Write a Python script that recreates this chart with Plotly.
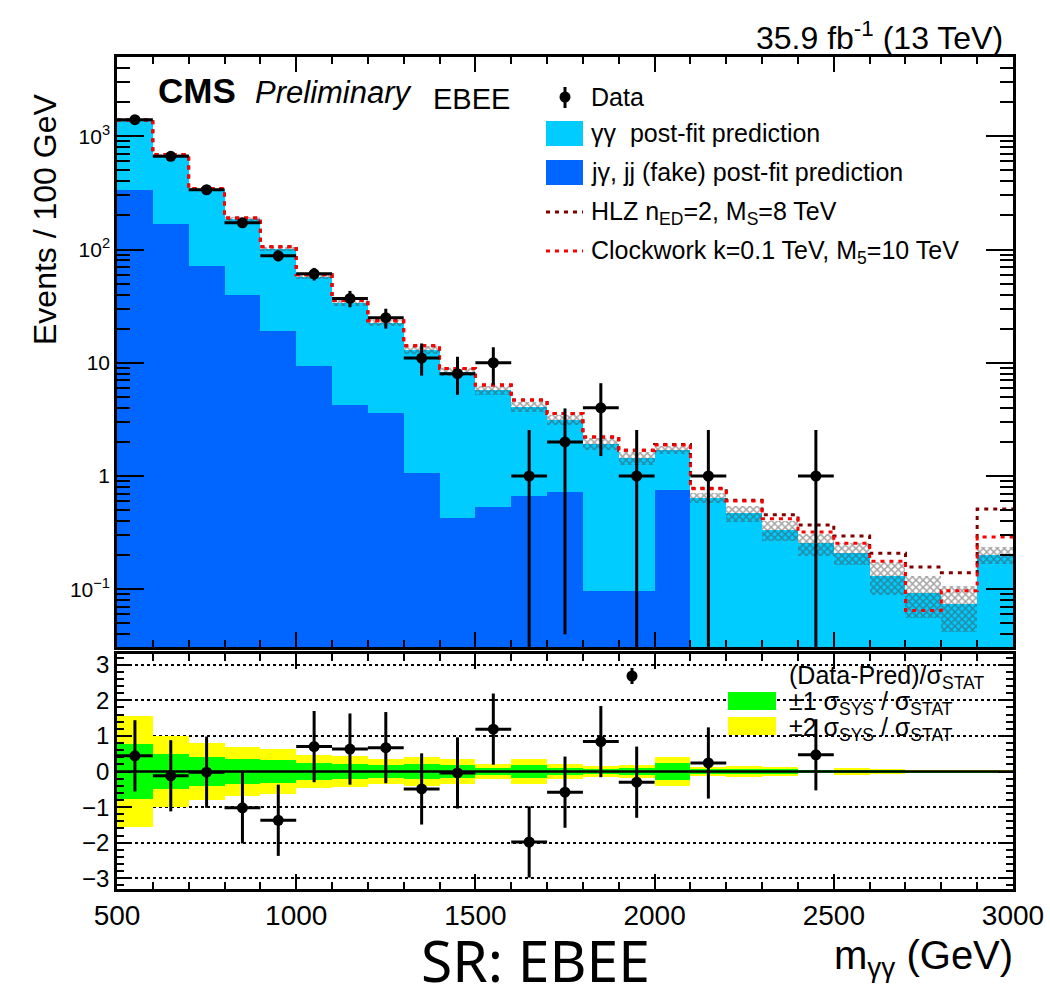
import plotly.graph_objects as go

# ---- binning (GeV) ----
bin_edges = list(range(500, 3001, 100))
bin_centers = [e + 50 for e in bin_edges[:-1]]

# ---- observed events per bin (None = empty bin) ----
data_counts = [1400, 665, 337, 172, 88, 61, 37, 25, 11, 8, 10, 1, 2, 4, 1,
               None, 1, None, None, 1, None, None, None, None, None]
data_err_up = [37, 26, 18, 13, 9.4, 7.8, 6.1, 5.0, 3.8, 3.3, 3.7, 1.55, 1.95, 2.6, 1.55,
               None, 1.55, None, None, 1.55, None, None, None, None, None]
data_err_dn = [37, 26, 18, 13, 9.4, 7.8, 6.1, 5.0, 3.3, 2.8, 3.6, 1.0, 1.96, 2.5, 1.0,
               None, 1.0, None, None, 1.0, None, None, None, None, None]

# ---- post-fit background components ----
pred_fake = [337, 169, 72, 39.6, 19.2, 9.4, 4.2, 3.6, 1.06, 0.43, 0.53, 0.665, 0.72, 0.096, 0.097,
             0.76, 0.012, 0.011, 0.010, 0.009, 0.008, 0.007, 0.006, 0.005, 0.005]
pred_gg = [1033, 511, 266, 146, 82, 48.3, 29.8, 18.7, 11.9, 7.87, 5.17, 3.44, 2.43, 1.84, 1.35,
           0.94, 0.63, 0.46, 0.325, 0.245, 0.20, 0.125, 0.087, 0.069, 0.195]
pred_rel_unc = [0.03, 0.03, 0.03, 0.04, 0.05, 0.05, 0.06, 0.06, 0.08, 0.08, 0.09, 0.10, 0.10, 0.13, 0.13,
                0.08, 0.10, 0.16, 0.20, 0.22, 0.22, 0.33, 0.40, 0.43, 0.17]

# ---- signal + background hypotheses ----
hlz_total = [1390, 690, 345, 190, 106, 60, 35.5, 23.5, 14.1, 8.9, 6.35, 4.68, 3.57, 2.21, 1.69,
             1.90, 0.78, 0.61, 0.455, 0.37, 0.295, 0.208, 0.157, 0.14, 0.51]
clockwork_total = [1390, 690, 345, 190, 106, 60, 35.5, 23.5, 14.1, 8.9, 6.35, 4.68, 3.57, 2.21, 1.69,
                   1.88, 0.77, 0.60, 0.42, 0.32, 0.255, 0.177, 0.065, 0.097, 0.29]

# ---- pulls (Data-Pred)/sigma_stat ----
pulls = [0.44, -0.12, -0.02, -1.02, -1.37, 0.70, 0.63, 0.67, -0.49, -0.04, 1.19, -1.98, -0.58, 0.84, -0.30,
         None, 0.24, None, None, 0.47, None, None, None, None, None]
pull_err = [1.0, 1.0, 1.0, 1.0, 1.0, 1.0, 1.0, 1.0, 1.0, 1.0, 1.0, 1.0, 1.0, 1.0, 1.0,
            None, 1.0, None, None, 1.0, None, None, None, None, None]
band_1sig = [0.78, 0.50, 0.40, 0.35, 0.32, 0.24, 0.21, 0.17, 0.20, 0.17, 0.10, 0.17, 0.11, 0.08, 0.10,
             0.25, 0.06, 0.07, 0.065, 0.03, 0.05, 0.035, 0.025, 0.025, 0.025]
band_2sig = [1.55, 1.00, 0.80, 0.70, 0.64, 0.47, 0.43, 0.34, 0.41, 0.35, 0.20, 0.35, 0.22, 0.16, 0.19,
             0.41, 0.12, 0.15, 0.13, 0.05, 0.10, 0.07, 0.05, 0.05, 0.05]

# ---- styling ----
FONT = "Liberation Sans"
C_GG = "#00CCFF"
C_FAKE = "#0066FF"
C_HLZ = "#800000"
C_CW = "#FF0000"
C_GREEN = "#00FF00"
C_YELLOW = "#FFFF00"

W, H = 1050, 1002
ML, MR, MT, MB = 117, 37, 57, 113
PW, PH = W - ML - MR, H - MT - MB


def px(x):
    return (x - ML) / PW


def py(y):
    return (H - MB - y) / PH


pred_total = [g + f for g, f in zip(pred_gg, pred_fake)]
bin_width = [100] * len(bin_centers)

fig = go.Figure()

# stacked background (top panel)
fig.add_trace(go.Bar(x=bin_centers, y=pred_total, width=bin_width, marker=dict(color=C_GG, line=dict(width=0)),
                     xaxis="x2", yaxis="y2", showlegend=False))
fig.add_trace(go.Bar(x=bin_centers, y=pred_fake, width=bin_width, marker=dict(color=C_FAKE, line=dict(width=0)),
                     xaxis="x2", yaxis="y2", showlegend=False))
# background uncertainty (hatched)
fig.add_trace(go.Bar(
    x=bin_centers,
    y=[t * 2 * u for t, u in zip(pred_total, pred_rel_unc)],
    base=[t * (1 - u) for t, u in zip(pred_total, pred_rel_unc)],
    width=bin_width,
    marker=dict(color="rgba(0,0,0,0)", line=dict(width=0),
                pattern=dict(shape="x", fgcolor="#4a4a4a", bgcolor="rgba(0,0,0,0)",
                             size=5, solidity=0.5, fillmode="overlay")),
    xaxis="x2", yaxis="y2", showlegend=False))

# signal hypotheses (step lines)
fig.add_trace(go.Scatter(x=bin_edges, y=hlz_total + [hlz_total[-1]], mode="lines", line_shape="hv",
                         line=dict(color=C_HLZ, width=3, dash="4px,5px"),
                         xaxis="x2", yaxis="y2", showlegend=False))
fig.add_trace(go.Scatter(x=bin_edges, y=clockwork_total + [clockwork_total[-1]], mode="lines", line_shape="hv",
                         line=dict(color=C_CW, width=3, dash="4px,5px"),
                         xaxis="x2", yaxis="y2", showlegend=False))

# data points
fig.add_trace(go.Scatter(
    x=bin_centers, y=data_counts, mode="markers",
    marker=dict(color="black", size=11),
    error_x=dict(type="constant", value=50, thickness=3, width=0, color="black"),
    error_y=dict(type="data", array=data_err_up, arrayminus=data_err_dn, symmetric=False,
                 thickness=3, width=0, color="black"),
    xaxis="x2", yaxis="y2", showlegend=False))

# ---- ratio panel ----
fig.add_trace(go.Bar(x=bin_centers, y=[2 * b for b in band_2sig], base=[-b for b in band_2sig], width=bin_width,
                     marker=dict(color=C_YELLOW, line=dict(width=0)), xaxis="x", yaxis="y", showlegend=False))
fig.add_trace(go.Bar(x=bin_centers, y=[2 * b for b in band_1sig], base=[-b for b in band_1sig], width=bin_width,
                     marker=dict(color=C_GREEN, line=dict(width=0)), xaxis="x", yaxis="y", showlegend=False))
fig.add_trace(go.Scatter(x=[500, 3000], y=[0, 0], mode="lines", line=dict(color="black", width=2.5),
                         xaxis="x", yaxis="y", showlegend=False))
fig.add_trace(go.Scatter(
    x=bin_centers, y=pulls, mode="markers",
    marker=dict(color="black", size=11),
    error_x=dict(type="constant", value=50, thickness=3, width=0, color="black"),
    error_y=dict(type="data", array=pull_err, thickness=3, width=0, color="black"),
    xaxis="x", yaxis="y", showlegend=False))

split_lo = (H - MB - 654) / PH
split_hi = (H - MB - 647) / PH

axis_common = dict(showline=True, linecolor="black", linewidth=2.5, mirror="allticks",
                   ticks="inside", tickcolor="black", tickwidth=2, showgrid=False, zeroline=False,
                   automargin=False)

xticks = [500, 1000, 1500, 2000, 2500, 3000]
fig.update_layout(
    width=W, height=H,
    margin=dict(l=ML, r=MR, t=MT, b=MB, autoexpand=False),
    paper_bgcolor="white", plot_bgcolor="white",
    barmode="overlay", bargap=0,
    font=dict(family=FONT, color="black"),
    xaxis=dict(domain=[0, 1], anchor="y", range=[500, 3000], tickvals=xticks,
               ticklen=15, tickfont=dict(size=28, family=FONT),
               minor=dict(dtick=100, ticklen=7, ticks="inside", tickcolor="black", tickwidth=2),
               **axis_common),
    xaxis2=dict(domain=[0, 1], anchor="y2", range=[500, 3000], matches="x", tickvals=xticks,
                showticklabels=False, ticklen=15,
                minor=dict(dtick=100, ticklen=7, ticks="inside", tickcolor="black", tickwidth=2),
                **axis_common),
    yaxis=dict(domain=[0, split_lo], anchor="x", range=[-3.3, 3.3],
               tickvals=[-3, -2, -1, 0, 1, 2, 3], ticktext=["−3", "−2", "−1", "0", "1", "2", "3"],
               ticklen=15, tickfont=dict(size=24, family=FONT),
               minor=dict(dtick=0.2, ticklen=7, ticks="inside", tickcolor="black", tickwidth=2),
               **{k: v for k, v in axis_common.items() if k != "showgrid"},
               showgrid=True, gridcolor="black", gridwidth=2, griddash="dot"),
    yaxis2=dict(domain=[split_hi, 1], anchor="x2", type="log", range=[-1.51, 3.70],
                tickvals=[0.1, 1, 10, 100, 1000],
                ticktext=["10<sup>−1</sup>", "1", "10", "10<sup>2</sup>", "10<sup>3</sup>"],
                ticklen=27, tickfont=dict(size=21, family=FONT),
                minor=dict(tickvals=[m * 10 ** d for d in range(-2, 4) for m in range(2, 10)],
                           ticklen=13, ticks="inside", tickcolor="black", tickwidth=2),
                **axis_common),
)

annotations = []
shapes = []

# header texts
annotations += [
    dict(text="<b>CMS</b>", x=px(156), y=py(91), xanchor="left", yanchor="middle",
         font=dict(size=35, family=FONT)),
    dict(text="<i>Preliminary</i>", x=px(253), y=py(93), xanchor="left", yanchor="middle",
         font=dict(size=31, family=FONT)),
    dict(text="EBEE", x=px(431), y=py(99), xanchor="left", yanchor="middle",
         font=dict(size=29, family=FONT)),
    dict(text="35.9 fb<sup>-1</sup> (13 TeV)", x=px(1005), y=py(36), xanchor="right", yanchor="middle",
         font=dict(size=32, family=FONT)),
    dict(text="Events / 100 GeV", x=px(45), y=py(220), xanchor="center", yanchor="middle", textangle=-90,
         font=dict(size=32, family=FONT)),
    dict(text="m<sub>γγ</sub> (GeV)", x=px(1015), y=py(958), xanchor="right", yanchor="middle",
         font=dict(size=40, family=FONT)),
    dict(text="SR: EBEE", x=px(535), y=py(1001), xanchor="center", yanchor="bottom",
         font=dict(size=57, family="Noto Sans")),
]

# top legend
leg_font = dict(size=25, family=FONT)
annotations += [
    dict(text="Data", x=px(589), y=py(97), xanchor="left", yanchor="middle", font=leg_font),
    dict(text="γγ  post-fit prediction", x=px(589), y=py(133), xanchor="left", yanchor="middle", font=leg_font),
    dict(text="jγ, jj (fake) post-fit prediction", x=px(589), y=py(172), xanchor="left", yanchor="middle",
         font=leg_font),
    dict(text="HLZ n<sub>ED</sub>=2, M<sub>S</sub>=8 TeV", x=px(589), y=py(213), xanchor="left",
         yanchor="middle", font=leg_font),
    dict(text="Clockwork k=0.1 TeV, M<sub>5</sub>=10 TeV", x=px(589), y=py(252), xanchor="left",
         yanchor="middle", font=leg_font),
]
shapes += [
    dict(type="line", xref="paper", yref="paper", x0=px(565), x1=px(565), y0=py(87), y1=py(108),
         line=dict(color="black", width=3)),
    dict(type="circle", xref="paper", yref="paper", x0=px(559.5), x1=px(570.5), y0=py(91.5), y1=py(102.5),
         fillcolor="black", line=dict(color="black", width=0)),
    dict(type="rect", xref="paper", yref="paper", x0=px(546), x1=px(583), y0=py(121), y1=py(146),
         fillcolor=C_GG, line=dict(width=0)),
    dict(type="rect", xref="paper", yref="paper", x0=px(546), x1=px(583), y0=py(160), y1=py(185),
         fillcolor=C_FAKE, line=dict(width=0)),
    dict(type="line", xref="paper", yref="paper", x0=px(546), x1=px(583), y0=py(212), y1=py(212),
         line=dict(color=C_HLZ, width=3, dash="4px,5px")),
    dict(type="line", xref="paper", yref="paper", x0=px(546), x1=px(583), y0=py(251), y1=py(251),
         line=dict(color=C_CW, width=3, dash="4px,5px")),
]

# ratio legend (white box over the grid)
shapes += [
    dict(type="rect", xref="paper", yref="paper", x0=px(712), x1=px(1011), y0=py(738), y1=py(667),
         fillcolor="white", line=dict(width=0), layer="between"),
    dict(type="line", xref="paper", yref="paper", x0=px(632), x1=px(632), y0=py(668), y1=py(684),
         line=dict(color="black", width=3)),
    dict(type="circle", xref="paper", yref="paper", x0=px(626.5), x1=px(637.5), y0=py(670.5), y1=py(681.5),
         fillcolor="black", line=dict(color="black", width=0)),
    dict(type="rect", xref="paper", yref="paper", x0=px(728), x1=px(776), y0=py(692), y1=py(710),
         fillcolor=C_GREEN, line=dict(width=0)),
    dict(type="rect", xref="paper", yref="paper", x0=px(728), x1=px(776), y0=py(717), y1=py(735),
         fillcolor=C_YELLOW, line=dict(width=0)),
]
annotations += [
    dict(text="(Data-Pred)/σ<sub>STAT</sub>", x=px(787), y=py(677), xanchor="left", yanchor="middle",
         font=leg_font),
    dict(text="±1 σ<sub>SYS</sub> / σ<sub>STAT</sub>", x=px(787), y=py(703), xanchor="left", yanchor="middle",
         font=leg_font),
    dict(text="±2 σ<sub>SYS</sub> / σ<sub>STAT</sub>", x=px(787), y=py(729), xanchor="left", yanchor="middle",
         font=leg_font),
]

for a in annotations:
    a.setdefault("xref", "paper")
    a.setdefault("yref", "paper")
    a.setdefault("showarrow", False)

fig.update_layout(annotations=annotations, shapes=shapes)

fig.write_html("out.html")
